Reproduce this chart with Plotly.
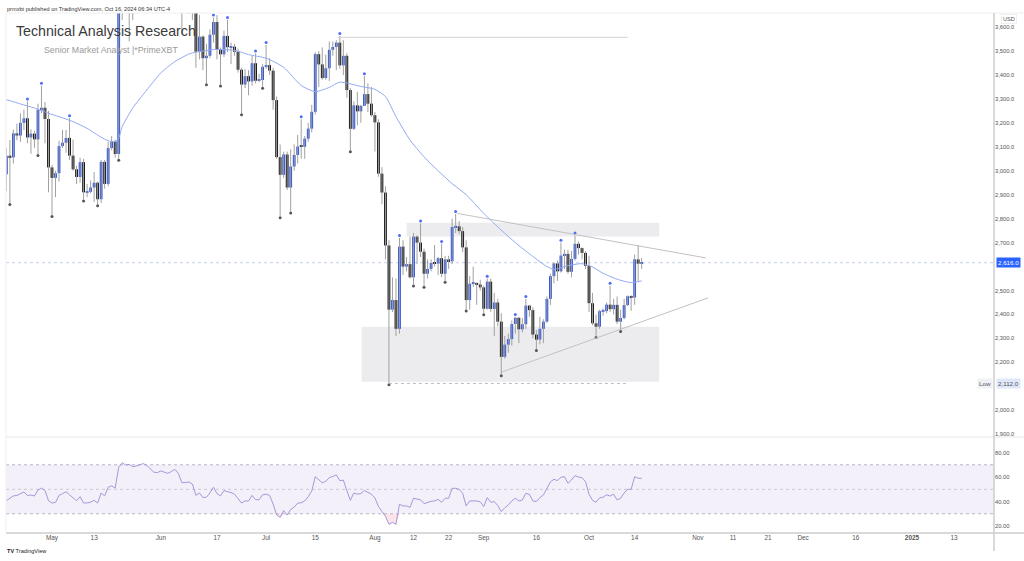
import plotly.graph_objects as go
import pandas as pd

# ---------------- data ----------------
start_date = "2024-04-18"

opens = [2985, 3063, 3056, 3156, 3147, 3200, 3219, 3139, 3155, 3131, 3255, 3263, 3216,
         3014, 2970, 2990, 3103, 3117, 3137, 3063, 3006, 2974, 3036, 2910, 2912, 2930, 2950, 2881, 3037, 2945, 3095, 3122, 3070, 3660, 3790, 3737, 3781, 3728, 3748, 3826, 3892, 3843, 3767, 3747,
         3762, 3815, 3780, 3768, 3812, 3866, 3810, 3680, 3683, 3706, 3666, 3497, 3560, 3470, 3480, 3568, 3621, 3507, 3486, 3563, 3516, 3518, 3497, 3422, 3360, 3395, 3373, 3449, 3376, 3379,
         3434, 3441, 3418, 3295, 3057, 2983, 3068, 2930, 3018, 3066, 3101, 3100, 3134, 3176, 3246, 3487, 3444, 3387, 3428, 3505, 3517, 3535, 3440, 3480, 3337, 3175, 3273, 3248, 3271, 3320, 3280,
         3232, 3202, 2988, 2909, 2688, 2420, 2460, 2340, 2683, 2600, 2610, 2555, 2725, 2700, 2662, 2570, 2590, 2615, 2612, 2635, 2570, 2630, 2622, 2765, 2768, 2748, 2680, 2460, 2528, 2530, 2525,
         2513, 2424, 2537, 2423, 2450, 2370, 2223, 2274, 2297, 2360, 2386, 2338, 2359, 2437, 2418, 2316, 2295, 2340, 2370, 2465, 2560, 2613, 2580, 2646, 2653, 2578, 2632, 2695, 2677, 2657,
         2603, 2447, 2363, 2349, 2414, 2414, 2441, 2422, 2440, 2370, 2385, 2439, 2476, 2471, 2630, 2612]
highs = [3095, 3128, 3172, 3197, 3240, 3255, 3290, 3173, 3167, 3280, 3355, 3287, 3250,
         3025, 3000, 3125, 3170, 3170, 3220, 3130, 3020, 3055, 3050, 2945, 2960, 2995, 2955, 3045, 3045, 3120, 3145, 3130, 3690, 3840, 3815, 3950, 3830, 3800, 3880, 3975, 3930, 3885, 3825, 3845,
         3835, 3832, 3850, 3830, 3887, 3880, 3840, 3715, 3725, 3715, 3675, 3650, 3565, 3530, 3590, 3640, 3650, 3515, 3585, 3630, 3535, 3530, 3510, 3430, 3425, 3420, 3480, 3490, 3405, 3445,
         3525, 3470, 3430, 3310, 3110, 3080, 3080, 3090, 3110, 3150, 3215, 3145, 3200, 3275, 3495, 3500, 3515, 3485, 3540, 3540, 3545, 3563, 3545, 3490, 3345, 3290, 3330, 3275, 3395, 3365, 3350,
         3245, 3215, 3015, 2935, 2710, 2555, 2550, 2720, 2710, 2640, 2725, 2740, 2730, 2780, 2675, 2630, 2630, 2690, 2640, 2695, 2645, 2645, 2800, 2820, 2790, 2765, 2710, 2560, 2600, 2535, 2545,
         2520, 2550, 2550, 2490, 2465, 2405, 2310, 2320, 2375, 2390, 2390, 2385, 2465, 2440, 2430, 2335, 2390, 2380, 2475, 2570, 2615, 2625, 2700, 2670, 2670, 2665, 2730, 2705, 2680, 2665,
         2645, 2490, 2400, 2420, 2425, 2450, 2520, 2465, 2475, 2420, 2465, 2480, 2480, 2650, 2690, 2635]
lows = [2915, 2865, 3030, 3127, 3120, 3170, 3115, 3071, 3096, 3070, 3240, 3115, 2910,
        2815, 2890, 2955, 3095, 3075, 3045, 3000, 2945, 2950, 2880, 2890, 2905, 2870, 2860, 2865, 2925, 2935, 3085, 3055, 3050, 3630, 3660, 3540, 3630, 3720, 3725, 3820, 3772, 3740, 3705, 3725,
        3752, 3755, 3753, 3730, 3780, 3740, 3570, 3670, 3655, 3630, 3430, 3465, 3420, 3365, 3470, 3535, 3465, 3360, 3475, 3495, 3445, 3480, 3410, 3240, 3345, 3315, 3355, 3365, 3370, 3350,
        3425, 3400, 3255, 3050, 2810, 2970, 2920, 2830, 3000, 3030, 3050, 3050, 3120, 3160, 3235, 3350, 3380, 3380, 3375, 3480, 3420, 3425, 3400, 3305, 3085, 3170, 3190, 3200, 3270, 3245, 3225,
        3080, 2975, 2860, 2630, 2112, 2410, 2310, 2320, 2565, 2580, 2550, 2525, 2610, 2640, 2520, 2550, 2580, 2600, 2565, 2555, 2540, 2590, 2610, 2740, 2735, 2660, 2420, 2420, 2515, 2440, 2500,
        2405, 2420, 2410, 2310, 2350, 2150, 2215, 2240, 2270, 2320, 2280, 2325, 2340, 2390, 2300, 2255, 2275, 2280, 2365, 2440, 2530, 2540, 2575, 2590, 2570, 2555, 2625, 2650, 2630, 2590,
        2410, 2355, 2310, 2340, 2395, 2405, 2410, 2400, 2360, 2335, 2380, 2435, 2415, 2440, 2540, 2590]
closes = [3063, 3056, 3156, 3147, 3200, 3219, 3139, 3155, 3131, 3255, 3263, 3216, 3014,
          2970, 2990, 3103, 3117, 3137, 3063, 3006, 2974, 3036, 2910, 2912, 2930, 2950, 2881, 3037, 2945, 3095, 3122, 3070, 3660, 3790, 3737, 3781, 3728, 3748, 3826, 3892, 3843, 3767, 3747, 3762,
          3815, 3780, 3768, 3812, 3866, 3810, 3680, 3683, 3706, 3666, 3497, 3560, 3470, 3480, 3568, 3621, 3507, 3486, 3563, 3516, 3518, 3497, 3422, 3360, 3395, 3373, 3449, 3376, 3379, 3434,
          3441, 3418, 3295, 3057, 2983, 3068, 2930, 3018, 3066, 3101, 3100, 3134, 3176, 3246, 3487, 3444, 3387, 3428, 3505, 3517, 3535, 3440, 3480, 3337, 3175, 3273, 3248, 3271, 3320, 3280, 3232,
          3202, 2988, 2909, 2688, 2420, 2460, 2340, 2683, 2600, 2610, 2555, 2725, 2700, 2662, 2570, 2590, 2615, 2612, 2635, 2570, 2630, 2622, 2765, 2768, 2748, 2680, 2460, 2528, 2530, 2525, 2513,
          2424, 2537, 2423, 2450, 2370, 2223, 2274, 2297, 2360, 2386, 2338, 2359, 2437, 2418, 2316, 2295, 2340, 2370, 2465, 2560, 2613, 2580, 2646, 2653, 2578, 2632, 2695, 2677, 2657, 2603,
          2447, 2363, 2349, 2414, 2414, 2441, 2422, 2440, 2370, 2385, 2439, 2476, 2471, 2630, 2612, 2616]

rsi_values = [40.7, 43.0, 44.6, 45.0, 46.7, 47.8, 45.0, 45.3, 44.5, 49.4, 51.0, 49.0, 40.7,
              38.8, 39.3, 45.0, 46.5, 48.0, 45.5, 43.0, 40.7, 44.0, 38.8, 38.9, 39.5, 41.0, 38.8, 47.0, 44.6, 51.7, 52.8, 51.0, 68.0, 71.7, 69.8, 70.4, 68.5, 69.0, 70.0, 71.0, 69.5, 67.0, 64.0, 63.6,
              65.0, 64.0, 63.0, 64.5, 66.3, 63.0, 55.4, 55.5, 56.0, 54.3, 45.0, 47.0, 43.3, 43.5, 47.0, 51.7, 46.5, 44.6, 49.0, 48.0, 47.4, 46.0, 42.0, 38.8, 40.5, 40.5, 45.0, 41.5, 41.5, 45.5,
              46.0, 45.0, 38.0, 29.0, 27.1, 32.6, 29.0, 33.5, 35.5, 38.7, 39.0, 40.5, 44.0, 48.5, 60.3, 58.0, 55.3, 56.5, 59.5, 60.5, 61.8, 57.0, 57.5, 49.0, 41.0, 47.0, 46.0, 46.5, 49.0, 47.5, 46.0,
              43.0, 36.0, 32.0, 28.0, 21.4, 23.0, 21.4, 37.8, 36.4, 36.4, 35.3, 42.7, 42.0, 41.5, 38.3, 39.5, 40.2, 40.5, 41.8, 39.4, 42.7, 42.7, 50.8, 50.8, 50.0, 46.7, 36.4, 40.5, 40.8, 40.5, 39.8,
              35.9, 43.2, 39.4, 40.0, 36.7, 31.8, 35.0, 37.2, 40.5, 42.7, 40.5, 41.3, 46.7, 45.9, 40.5, 40.0, 43.2, 45.4, 51.4, 56.0, 58.2, 57.1, 59.8, 60.3, 54.9, 57.6, 61.2, 60.0, 59.5, 56.3,
              45.9, 41.0, 39.4, 43.0, 43.5, 45.5, 44.5, 46.0, 41.3, 42.7, 47.0, 50.0, 50.0, 60.3, 59.0, 59.0]

ma_dates = ["2024-04-18", "2024-04-22", "2024-04-26", "2024-04-30", "2024-05-03", "2024-05-07",
            "2024-05-11", "2024-05-15", "2024-05-17", "2024-05-19", "2024-05-20", "2024-05-21",
            "2024-05-24", "2024-05-28", "2024-06-01", "2024-06-05", "2024-06-09", "2024-06-11",
            "2024-06-16", "2024-06-22", "2024-06-26", "2024-07-01", "2024-07-06", "2024-07-11",
            "2024-07-15", "2024-07-19", "2024-07-22", "2024-07-28", "2024-08-01", "2024-08-04",
            "2024-08-07", "2024-08-11", "2024-08-15", "2024-08-19", "2024-08-23", "2024-08-27",
            "2024-09-01", "2024-09-06", "2024-09-10", "2024-09-15", "2024-09-19", "2024-09-21",
            "2024-09-25", "2024-09-29", "2024-10-02", "2024-10-05", "2024-10-09", "2024-10-13",
            "2024-10-16"]
ma_values = [3297, 3279, 3262, 3240, 3226, 3205, 3177, 3140, 3125, 3122, 3135, 3184,
             3262, 3337, 3408, 3456, 3487, 3495, 3506, 3503, 3485, 3470, 3432, 3356,
             3330, 3348, 3370, 3352, 3340, 3310, 3226, 3128, 3058, 3000, 2946, 2900,
             2822, 2752, 2700, 2642, 2600, 2588, 2604, 2612, 2598, 2572, 2547, 2533, 2540]

pivot_high_dates = ["2024-04-24", "2024-04-28", "2024-05-06", "2024-06-16", "2024-06-20", "2024-06-28",
                    "2024-07-01", "2024-07-11", "2024-07-22", "2024-07-29", "2024-08-08", "2024-08-14",
                    "2024-08-20", "2024-08-24", "2024-09-02", "2024-09-10", "2024-09-13", "2024-09-23",
                    "2024-09-27", "2024-10-07"]
pivot_low_dates = ["2024-04-19", "2024-04-27", "2024-05-01", "2024-05-10", "2024-05-14", "2024-05-20",
                   "2024-06-14", "2024-06-18", "2024-06-24", "2024-06-30", "2024-07-05", "2024-07-08",
                   "2024-07-25", "2024-08-05", "2024-08-12", "2024-08-15", "2024-08-21", "2024-08-27",
                   "2024-09-01", "2024-09-06", "2024-09-16", "2024-10-03", "2024-10-10"]

# drawings (dates / price levels)
resistance_zone_dates = ["2024-08-10 00:00", "2024-10-21 00:00"]
resistance_zone_prices = [2725, 2783]
support_zone_dates = ["2024-07-28 05:00", "2024-10-21 00:00"]
support_zone_prices = [2119, 2349]
swing_high_line_dates = ["2024-07-21 12:00", "2024-10-12 00:00"]
swing_high_line_price = 3557
low_line_dates = ["2024-08-05 00:00", "2024-10-12 00:00"]
low_price = 2112
desc_trend_dates = ["2024-08-24 10:00", "2024-11-03 07:00"]
desc_trend_prices = [2822, 2636]
asc_trend_dates = ["2024-09-06 05:00", "2024-11-03 21:00"]
asc_trend_prices = [2160, 2469]
last_price = 2616

price_ticks = list(range(1900, 3700, 100))
rsi_ticks = [20, 40, 60, 80]
rsi_levels = [30, 50, 70]
x_tick_dates = ["2024-05-01", "2024-05-13", "2024-06-01", "2024-06-17", "2024-07-01", "2024-07-15",
                "2024-08-01", "2024-08-12", "2024-08-22", "2024-09-01", "2024-09-16", "2024-10-01",
                "2024-10-14", "2024-11-01", "2024-11-11", "2024-11-21", "2024-12-01", "2024-12-16",
                "2025-01-01", "2025-01-13"]
x_tick_labels = ["May", "13", "Jun", "17", "Jul", "15", "Aug", "12", "22", "Sep", "16", "Oct",
                 "14", "Nov", "11", "21", "Dec", "16", "<b>2025</b>", "13"]

# ---------------- styles ----------------
W, H = 1024, 561
PL, PR, PT, PB = 6, 994, 13, 533     # plot area in pixels
SPLIT = 437                           # price / RSI separator
FONT = "Liberation Sans, Arial, sans-serif"
UP, DOWN, WICK = "#2f54dc", "#111111", "#a0a0a0"
ZONE = "#ececef"


def to_dt(v):
    return pd.to_datetime(v, format="ISO8601")


dates = pd.date_range(start_date, periods=len(closes), freq="D")
DAY_MS = 86400000

fig = go.Figure()

# wicks
wx, wy = [], []
for d, lo, hi in zip(dates, lows, highs):
    wx += [d, d, None]
    wy += [lo, hi, None]
fig.add_trace(go.Scatter(x=wx, y=wy, mode="lines", line=dict(color=WICK, width=1),
                         hoverinfo="skip", showlegend=False, xaxis="x", yaxis="y"))

# bodies
body_base = [min(o, c) for o, c in zip(opens, closes)]
body_h = [max(abs(c - o), 5) for o, c in zip(opens, closes)]
body_col = [UP if c >= o else DOWN for o, c in zip(opens, closes)]
fig.add_trace(go.Bar(x=dates, y=body_h, base=body_base, width=0.8 * DAY_MS,
                     marker=dict(color=body_col, line=dict(width=0)),
                     showlegend=False, xaxis="x", yaxis="y"))

# moving average
fig.add_trace(go.Scatter(x=to_dt(ma_dates), y=ma_values, mode="lines",
                         line=dict(color="#93a9f2", width=1, shape="spline", smoothing=0.6),
                         showlegend=False, xaxis="x", yaxis="y"))

# pivot markers
idx = {d.strftime("%Y-%m-%d"): i for i, d in enumerate(dates)}
ph_y = [highs[idx[d]] + 10 for d in pivot_high_dates]
pl_y = [lows[idx[d]] - 6 for d in pivot_low_dates]
fig.add_trace(go.Scatter(x=to_dt(pivot_high_dates), y=ph_y, mode="markers",
                         marker=dict(color="#4c6ef5", size=3),
                         showlegend=False, xaxis="x", yaxis="y"))
fig.add_trace(go.Scatter(x=to_dt(pivot_low_dates), y=pl_y, mode="markers",
                         marker=dict(color="#555555", size=3),
                         showlegend=False, xaxis="x", yaxis="y"))

# trendlines and levels
fig.add_trace(go.Scatter(x=to_dt(desc_trend_dates), y=desc_trend_prices, mode="lines",
                         line=dict(color="#c2c2c2", width=1), showlegend=False, xaxis="x", yaxis="y"))
fig.add_trace(go.Scatter(x=to_dt(asc_trend_dates), y=asc_trend_prices, mode="lines",
                         line=dict(color="#c2c2c2", width=1), showlegend=False, xaxis="x", yaxis="y"))
fig.add_trace(go.Scatter(x=to_dt(swing_high_line_dates), y=[swing_high_line_price] * 2,
                         mode="lines", line=dict(color="#d2d2d2", width=1),
                         showlegend=False, xaxis="x", yaxis="y"))
fig.add_trace(go.Scatter(x=to_dt(low_line_dates), y=[low_price] * 2,
                         mode="lines", line=dict(color="#bdbdbd", width=1, dash="dot"),
                         showlegend=False, xaxis="x", yaxis="y"))

# RSI
rsi_clip = [min(v, 30) for v in rsi_values]
fig.add_trace(go.Scatter(x=dates, y=[30] * len(dates), mode="lines", line=dict(width=0),
                         hoverinfo="skip", showlegend=False, xaxis="x", yaxis="y2"))
fig.add_trace(go.Scatter(x=dates, y=rsi_clip, mode="lines", line=dict(width=0),
                         fill="tonexty", fillcolor="rgba(242,120,140,0.2)",
                         hoverinfo="skip", showlegend=False, xaxis="x", yaxis="y2"))
fig.add_trace(go.Scatter(x=dates, y=rsi_values, mode="lines",
                         line=dict(color="#a897d9", width=1),
                         showlegend=False, xaxis="x", yaxis="y2"))

# ---------------- layout ----------------
plot_h = PB - PT
price_bottom = (PB - SPLIT) / plot_h
x0 = pd.Timestamp("2024-05-01")
px_per_day = 3.51
x_left = x0 + pd.Timedelta(days=(PL - 52) / px_per_day)
x_right = x0 + pd.Timedelta(days=(PR - 52) / px_per_day)
p_top = 3500 + (51 - PT) / 0.2395
p_bot = 3500 - (SPLIT - 51) / 0.2395
r_top = 50 + (489.3 - SPLIT) / 1.225
r_bot = 50 - (PB - 489.3) / 1.225

# axis labels that sit under the price badges are hidden, as in the reference
shown_price_ticks = [t for t in price_ticks
                     if abs(t - last_price) > 40 and abs(t - low_price) > 40]

shapes = [
    dict(type="rect", xref="x", yref="y", x0=resistance_zone_dates[0], x1=resistance_zone_dates[1],
         y0=resistance_zone_prices[0], y1=resistance_zone_prices[1], fillcolor=ZONE,
         line=dict(width=0), layer="below"),
    dict(type="rect", xref="x", yref="y", x0=support_zone_dates[0], x1=support_zone_dates[1],
         y0=support_zone_prices[0], y1=support_zone_prices[1], fillcolor=ZONE,
         line=dict(width=0), layer="below"),
    dict(type="line", xref="paper", yref="y", x0=0, x1=1, y0=last_price, y1=last_price,
         line=dict(color="#c3d0e6", width=1, dash="dot"), layer="below"),
    dict(type="rect", xref="paper", yref="y2", x0=0, x1=1, y0=30, y1=70,
         fillcolor="rgba(126,87,194,0.09)", line=dict(width=0), layer="below"),
]
for lv in rsi_levels:
    shapes.append(dict(type="line", xref="paper", yref="y2", x0=0, x1=1, y0=lv, y1=lv,
                       line=dict(color="#b9b6c6" if lv != 50 else "#cbc8d6", width=1, dash="dot"),
                       layer="below"))
full_x = (W - PL) / (PR - PL)
shapes += [
    dict(type="line", xref="paper", yref="paper", x0=0, x1=full_x, y0=1, y1=1,
         line=dict(color="#eeeeee", width=1)),
    dict(type="line", xref="paper", yref="paper", x0=0, x1=full_x, y0=price_bottom, y1=price_bottom,
         line=dict(color="#e6e6e6", width=1)),
    dict(type="line", xref="paper", yref="paper", x0=0, x1=full_x, y0=0, y1=0,
         line=dict(color="#cccccc", width=1.5)),
    dict(type="line", xref="paper", yref="paper", x0=1, x1=1, y0=-18 / plot_h, y1=1,
         line=dict(color="#cccccc", width=1.5)),
    dict(type="line", xref="paper", yref="paper", x0=0, x1=0, y0=0, y1=1,
         line=dict(color="#f0f0f0", width=1)),
]


def px_x(p):
    return (p - PL) / (PR - PL)


def px_y(p):
    return (PB - p) / plot_h


annotations = [
    dict(text="prmxbt published on TradingView.com, Oct 16, 2024 06:34 UTC-4", xref="paper", yref="paper",
         x=px_x(5), y=px_y(8.5), xanchor="left", yanchor="middle", showarrow=False,
         font=dict(family=FONT, size=5.6, color="#333333")),
    dict(text="Technical Analysis Research", xref="paper", yref="paper",
         x=px_x(14), y=px_y(31), xanchor="left", yanchor="middle", showarrow=False,
         font=dict(family=FONT, size=14.2, color="#3a3a3a")),
    dict(text="Senior Market Analyst |*PrimeXBT", xref="paper", yref="paper",
         x=px_x(42), y=px_y(50), xanchor="left", yanchor="middle", showarrow=False,
         font=dict(family=FONT, size=8.8, color="#9a9a9a")),
    dict(text="<b>TV</b> TradingView", xref="paper", yref="paper",
         x=px_x(5), y=px_y(551), xanchor="left", yanchor="middle", showarrow=False,
         font=dict(family=FONT, size=5.6, color="#222222")),
    dict(text="USD", xref="paper", yref="paper", x=px_x(1001), y=px_y(19),
         xanchor="left", yanchor="middle", showarrow=False, bgcolor="#ffffff",
         bordercolor="#eeeeee", borderwidth=1, borderpad=1,
         font=dict(family=FONT, size=5.6, color="#555555")),
    dict(text="2,616.0", xref="paper", yref="y", x=px_x(996), y=last_price,
         xanchor="left", yanchor="middle", showarrow=False, bgcolor="#2962ff", borderpad=1,
         font=dict(family=FONT, size=6.2, color="#ffffff")),
    dict(text="2,112.0", xref="paper", yref="y", x=px_x(996), y=low_price,
         xanchor="left", yanchor="middle", showarrow=False, bgcolor="#dfe7f8", borderpad=1,
         font=dict(family=FONT, size=6.2, color="#555555")),
    dict(text="Low", xref="paper", yref="y", x=px_x(993), y=low_price,
         xanchor="right", yanchor="middle", showarrow=False, bgcolor="#eef1f6", borderpad=1,
         font=dict(family=FONT, size=6.2, color="#555555")),
]

fig.update_layout(
    width=W, height=H,
    margin=dict(l=PL, r=W - PR, t=PT, b=H - PB),
    paper_bgcolor="#ffffff", plot_bgcolor="rgba(0,0,0,0)",
    barmode="overlay", showlegend=False,
    font=dict(family=FONT, color="#555555"),
    xaxis=dict(type="date", range=[x_left, x_right], anchor="y2",
               tickmode="array", tickvals=to_dt(x_tick_dates), ticktext=x_tick_labels,
               showgrid=False, zeroline=False, showline=False, ticks="",
               tickfont=dict(family=FONT, size=6.4, color="#555555")),
    yaxis=dict(domain=[price_bottom, 1], range=[p_bot, p_top], side="right",
               tickmode="array", tickvals=shown_price_ticks, tickformat=",.1f",
               showgrid=False, zeroline=False, showline=False, ticks="",
               tickfont=dict(family=FONT, size=5.8, color="#555555")),
    yaxis2=dict(domain=[0, price_bottom], range=[r_bot, r_top], side="right",
                tickmode="array", tickvals=rsi_ticks, tickformat=".2f",
                showgrid=False, zeroline=False, showline=False, ticks="",
                tickfont=dict(family=FONT, size=5.8, color="#555555")),
    shapes=shapes, annotations=annotations,
)

fig.write_html("out.html")
